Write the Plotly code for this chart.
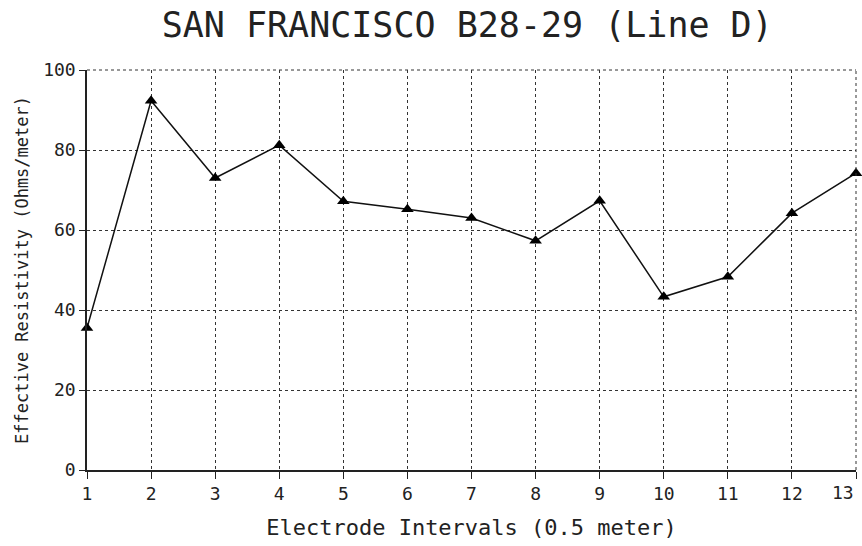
import plotly.graph_objects as go

intervals = list(range(1, 14))
resistivity = [35.5, 92.3, 73, 81.2, 67.2, 65.2, 63, 57.3, 67.3, 43.3, 48.3, 64.2, 74.2]
y_ticks = [0, 20, 40, 60, 80, 100]

mono = "DejaVu Sans Mono"

fig = go.Figure()
fig.add_trace(go.Scatter(
    x=intervals, y=resistivity, mode="lines+markers",
    line=dict(color="#111111", width=1.5),
    marker=dict(symbol="triangle-up", size=11, color="#000000"),
    cliponaxis=False, showlegend=False,
))

x_text = [str(v) for v in intervals]
last_label = x_text[-1]
x_text[-1] = ""

fig.update_layout(
    width=862, height=546,
    margin=dict(l=87, r=6, t=70, b=76),
    paper_bgcolor="white", plot_bgcolor="white",
    title=dict(text="SAN FRANCISCO B28-29 (Line D)", x=0.542, xanchor="center",
               y=0.955, yanchor="middle",
               font=dict(family=mono, size=35, color="#222222")),
)
fig.update_xaxes(
    range=[intervals[0], intervals[-1]], tickvals=intervals, ticktext=x_text,
    showgrid=True, gridcolor="#333333", griddash="dot", gridwidth=1,
    showline=True, linecolor="#222222", linewidth=1.5,
    ticks="outside", ticklen=7, tickcolor="#222222",
    zeroline=False, tickfont=dict(family=mono, size=18, color="#222222"),
    title=dict(text="Electrode Intervals (0.5 meter)", standoff=16,
               font=dict(family=mono, size=22, color="#222222")),
)
fig.update_yaxes(
    range=[0, 100], tickvals=y_ticks, ticktext=[str(v) for v in y_ticks],
    showgrid=True, gridcolor="#333333", griddash="dot", gridwidth=1,
    showline=True, linecolor="#222222", linewidth=1.5,
    ticks="outside", ticklen=6, tickcolor="#222222",
    zeroline=False, tickfont=dict(family=mono, size=18, color="#222222"),
    title=dict(text="Effective Resistivity (Ohms/meter)", standoff=10,
               font=dict(family=mono, size=17, color="#222222")),
)
fig.add_annotation(x=intervals[-1], y=0, xref="x", yref="paper", text=last_label,
                   showarrow=False, xanchor="right", yanchor="top", yshift=-10,
                   font=dict(family=mono, size=18, color="#222222"))
# dotted border on top and right as gridlines
fig.add_shape(type="line", xref="paper", yref="paper", x0=0, x1=1, y0=1, y1=1,
              line=dict(color="#333333", width=1, dash="dot"))
fig.add_shape(type="line", xref="paper", yref="paper", x0=1, x1=1, y0=0, y1=1,
              line=dict(color="#333333", width=1, dash="dot"))

fig.write_html("out.html")
